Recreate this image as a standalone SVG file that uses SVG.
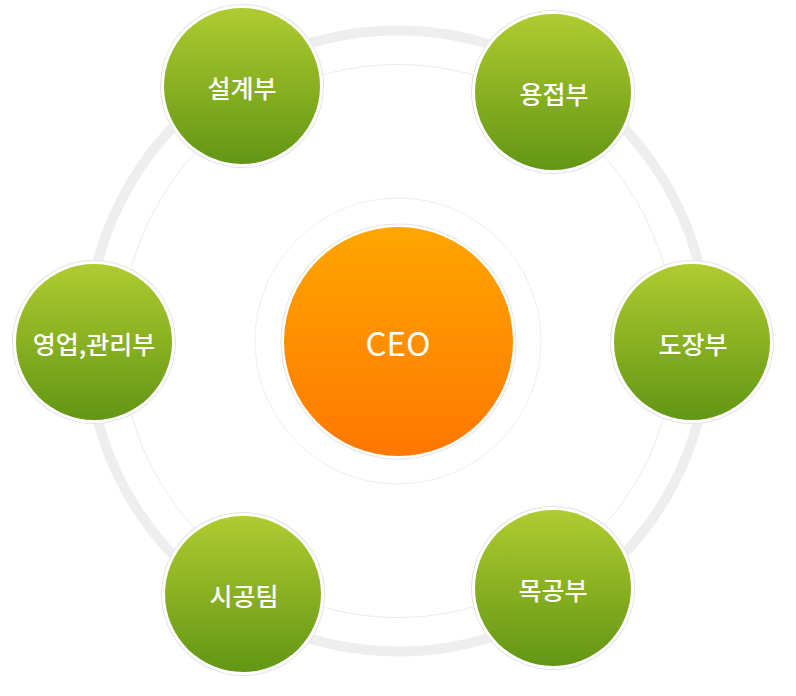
<svg xmlns="http://www.w3.org/2000/svg" width="796" height="696" viewBox="0 0 796 696">
  <defs>
    <linearGradient id="gGreen" x1="0" y1="0" x2="0" y2="1">
      <stop offset="0" stop-color="#b0cb30"/>
      <stop offset="1" stop-color="#629614"/>
    </linearGradient>
    <linearGradient id="gOrange" x1="0" y1="0" x2="0" y2="1">
      <stop offset="0" stop-color="#ffa600"/>
      <stop offset="1" stop-color="#ff7800"/>
    </linearGradient>
    <style>
      .edge { fill: #e4e4e4; }
      .rim { fill: #ffffff; }
      .green { fill: url(#gGreen); }
      .orange { fill: url(#gOrange); }
      .lbl { fill: #ffffff; font-family: "Noto Sans CJK KR", "Noto Sans", sans-serif; font-size: 25px; font-weight: 500; text-anchor: middle; dominant-baseline: central; }
      .ceo { fill: #ffffff; font-family: "Noto Sans CJK KR", "Noto Sans", sans-serif; font-size: 33px; text-anchor: middle; dominant-baseline: central; }
    </style>
  </defs>
  <rect width="796" height="696" fill="#ffffff"/>
  <g id="connectors">
    <circle cx="398" cy="341" r="310.5" fill="none" stroke="#eeeeee" stroke-width="10"/>
    <circle cx="398" cy="341" r="276.5" fill="none" stroke="#ececec" stroke-width="1"/>
    <circle cx="398" cy="341" r="143" fill="none" stroke="#efefef" stroke-width="1"/>
  </g>
  <g id="ceo">
    <circle class="edge" cx="398.5" cy="341.5" r="118"/>
    <circle class="rim" cx="398.5" cy="341.5" r="117"/>
    <circle class="orange" cx="398.5" cy="341.5" r="114.5"/>
    <text class="ceo" x="398" y="342">CEO</text>
  </g>
  <g id="n-design">
    <circle class="edge" cx="242" cy="86" r="82"/>
    <circle class="rim" cx="242" cy="86" r="81"/>
    <circle class="green" cx="242" cy="86" r="78"/>
    <text class="lbl" x="242" y="87">설계부</text>
  </g>
  <g id="n-weld">
    <circle class="edge" cx="553" cy="92" r="82"/>
    <circle class="rim" cx="553" cy="92" r="81"/>
    <circle class="green" cx="553" cy="92" r="78"/>
    <text class="lbl" x="554" y="93">용접부</text>
  </g>
  <g id="n-sales">
    <circle class="edge" cx="94" cy="342" r="82"/>
    <circle class="rim" cx="94" cy="342" r="81"/>
    <circle class="green" cx="94" cy="342" r="78"/>
    <text class="lbl" x="94" y="343">영업,관리부</text>
  </g>
  <g id="n-paint">
    <circle class="edge" cx="692" cy="342" r="82"/>
    <circle class="rim" cx="692" cy="342" r="81"/>
    <circle class="green" cx="692" cy="342" r="78"/>
    <text class="lbl" x="693" y="343">도장부</text>
  </g>
  <g id="n-const">
    <circle class="edge" cx="243" cy="594" r="82"/>
    <circle class="rim" cx="243" cy="594" r="81"/>
    <circle class="green" cx="243" cy="594" r="78"/>
    <text class="lbl" x="244" y="595">시공팀</text>
  </g>
  <g id="n-wood">
    <circle class="edge" cx="553" cy="588" r="82"/>
    <circle class="rim" cx="553" cy="588" r="81"/>
    <circle class="green" cx="553" cy="588" r="78"/>
    <text class="lbl" x="553" y="589">목공부</text>
  </g>
</svg>
